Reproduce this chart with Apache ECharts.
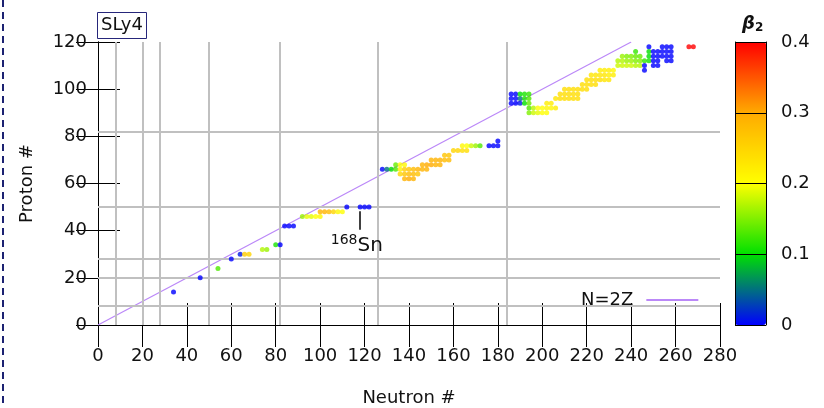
<!DOCTYPE html>
<html>
<head>
<meta charset="utf-8">
<script src="https://cdn.jsdelivr.net/npm/echarts@6/dist/echarts.min.js"></script>
<style>
html, body { margin: 0; padding: 0; background: #fff; }
#chart { width: 824px; height: 408px; }
</style>
</head>
<body>
<div id="chart"></div>
<script>
// nuclei: [N, Z, beta2]
var lightNuclei = [
	[34, 14, 0.0], [46, 20, 0.0], [54, 24, 0.13], [60, 28, 0.0],
	[64, 30, 0.01], [66, 30, 0.26], [68, 30, 0.25],
	[74, 32, 0.17], [76, 32, 0.16],
	[80, 34, 0.11], [82, 34, 0.0],
	[84, 42, 0.0], [86, 42, 0.0], [88, 42, 0.0],
	[92, 46, 0.16], [94, 46, 0.19], [96, 46, 0.19], [98, 46, 0.2], [100, 46, 0.21],
	[100, 48, 0.29], [102, 48, 0.29], [104, 48, 0.28], [106, 48, 0.25], [108, 48, 0.21], [110, 48, 0.2],
	[112, 50, 0.0], [118, 50, 0.0], [120, 50, 0.0], [122, 50, 0.0]
];

var midNuclei = [
	[138, 62, 0.29], [140, 62, 0.3], [142, 62, 0.29],
	[136, 64, 0.25], [138, 64, 0.27], [140, 64, 0.28], [142, 64, 0.28], [144, 64, 0.27],
	[128, 66, 0.0], [130, 66, 0.05], [132, 66, 0.1], [134, 66, 0.13], [136, 66, 0.22], [138, 66, 0.26],
	[140, 66, 0.27], [142, 66, 0.28], [144, 66, 0.29], [146, 66, 0.29], [148, 66, 0.29],
	[134, 68, 0.14], [136, 68, 0.2], [138, 68, 0.21],
	[146, 68, 0.29], [148, 68, 0.3], [150, 68, 0.3], [152, 68, 0.29], [154, 68, 0.29],
	[150, 70, 0.29], [152, 70, 0.29], [154, 70, 0.29], [156, 70, 0.28], [158, 70, 0.28],
	[156, 72, 0.27], [158, 72, 0.27],
	[160, 74, 0.25], [162, 74, 0.25], [164, 74, 0.24], [166, 74, 0.24],
	[164, 76, 0.21], [166, 76, 0.2], [168, 76, 0.18], [170, 76, 0.16], [172, 76, 0.13],
	[176, 76, 0.0], [178, 76, 0.0], [180, 76, 0.0],
	[180, 78, 0.0]
];

var heavyNuclei = [
	[194, 90, 0.15], [196, 90, 0.18], [198, 90, 0.19], [200, 90, 0.2], [202, 90, 0.2],
	[194, 92, 0.13], [196, 92, 0.17], [198, 92, 0.2], [200, 92, 0.2], [202, 92, 0.21], [204, 92, 0.21], [206, 92, 0.22],
	[186, 94, 0.0], [188, 94, 0.0], [190, 94, 0.01], [192, 94, 0.1], [194, 94, 0.14], [202, 94, 0.22], [204, 94, 0.22],
	[186, 96, 0.0], [188, 96, 0.0], [190, 96, 0.05], [192, 96, 0.11], [194, 96, 0.13],
	[206, 96, 0.23], [208, 96, 0.24], [210, 96, 0.24], [212, 96, 0.24], [214, 96, 0.24], [216, 96, 0.24],
	[186, 98, 0.0], [188, 98, 0.0], [190, 98, 0.1], [192, 98, 0.11], [194, 98, 0.12],
	[208, 98, 0.24], [210, 98, 0.24], [212, 98, 0.24], [214, 98, 0.24], [216, 98, 0.24],
	[210, 100, 0.24], [212, 100, 0.24], [214, 100, 0.24], [216, 100, 0.24], [218, 100, 0.24], [220, 100, 0.24],
	[218, 102, 0.24], [220, 102, 0.24], [222, 102, 0.24], [224, 102, 0.24],
	[220, 104, 0.24], [222, 104, 0.24], [224, 104, 0.24], [226, 104, 0.24], [228, 104, 0.23], [230, 104, 0.23],
	[222, 106, 0.23], [224, 106, 0.23], [226, 106, 0.23], [228, 106, 0.23], [230, 106, 0.22], [232, 106, 0.22],
	[226, 108, 0.22], [228, 108, 0.22], [230, 108, 0.22], [232, 108, 0.21], [246, 108, 0.0],
	[234, 110, 0.18], [236, 110, 0.18], [238, 110, 0.18], [240, 110, 0.18], [242, 110, 0.17], [244, 110, 0.17],
	[246, 110, 0.0], [250, 110, 0.0], [252, 110, 0.0],
	[234, 112, 0.17], [236, 112, 0.17], [238, 112, 0.16], [240, 112, 0.16], [242, 112, 0.15], [244, 112, 0.15],
	[246, 112, 0.12], [248, 112, 0.11], [250, 112, 0.0], [252, 112, 0.0], [256, 112, 0.0], [258, 112, 0.0],
	[236, 114, 0.16], [238, 114, 0.15], [240, 114, 0.15], [242, 114, 0.14], [244, 114, 0.14],
	[248, 114, 0.1], [250, 114, 0.0], [252, 114, 0.0], [254, 114, 0.0], [256, 114, 0.0], [258, 114, 0.0],
	[242, 116, 0.12], [248, 116, 0.1], [250, 116, 0.0], [252, 116, 0.0], [254, 116, 0.0], [256, 116, 0.0], [258, 116, 0.0],
	[248, 118, 0.0], [254, 118, 0.0], [256, 118, 0.0], [258, 118, 0.0], [266, 118, 0.4], [268, 118, 0.4]
];

var magicN = [8, 20, 28, 50, 82, 126, 184];
var magicZ = [8, 20, 28, 50, 82];
var lineN2Z = [[0, 0], [240, 120]];
var betaColors = ['#0000ff', '#00e000', '#ffff00', '#ffaa00', '#ff0000'];

var FONT = 'DejaVu Sans';
var LILAC = '#bb88f8';

var nuclei = lightNuclei.concat(midNuclei, heavyNuclei);

var magicLines = [];
for (var i = 0; i < magicN.length; i++) {
	magicLines.push({ xAxis: magicN[i] });
}
for (var j = 0; j < magicZ.length; j++) {
	magicLines.push({ yAxis: magicZ[j] });
}

var chart = echarts.init(document.getElementById('chart'));

var option = {
	animation: false,
	backgroundColor: '#fff',
	textStyle: { fontFamily: FONT },
	title: [{
		text: 'SLy4',
		left: 97,
		top: 12,
		padding: [4, 4, 5, 4],
		borderColor: '#26267a',
		borderWidth: 1,
		textStyle: { fontFamily: FONT, fontSize: 18, fontWeight: 'normal', color: '#111' }
	}, {
		text: '{b|β}{s|2}',
		left: 742,
		top: 14,
		padding: 0,
		textStyle: {
			rich: {
				b: { fontFamily: FONT, fontSize: 18, fontWeight: 'bold', fontStyle: 'italic', color: '#111' },
				s: { fontFamily: FONT, fontSize: 12, fontWeight: 'bold', color: '#111', padding: [8, 0, 0, 0] }
			}
		}
	}],
	legend: {
		data: [{ name: 'N=2Z', icon: 'rect', itemStyle: { color: LILAC, opacity: 1 } }],
		left: 576,
		top: 286,
		align: 'right',
		itemWidth: 52,
		itemHeight: 2,
		textStyle: { fontFamily: FONT, fontSize: 18, color: '#111', padding: [0, 8, 0, 0] }
	},
	grid: [
		{ left: 98, top: 42, width: 622, height: 283, outerBoundsMode: 'none', containLabel: false },
		{ left: 735, top: 42, width: 31, height: 283, outerBoundsMode: 'none', containLabel: false }
	],
	xAxis: [{
		gridIndex: 0,
		type: 'value',
		min: 0,
		max: 280,
		interval: 20,
		position: 'bottom',
		name: 'Neutron #',
		nameLocation: 'middle',
		nameGap: 64,
		nameTextStyle: { fontFamily: FONT, fontSize: 18, color: '#111' },
		axisLine: { lineStyle: { color: '#000', width: 1 } },
		axisTick: { inside: true, length: 22, lineStyle: { color: '#000' } },
		axisLabel: { margin: 22, fontFamily: FONT, fontSize: 18, color: '#111' },
		splitLine: { show: false }
	}, {
		gridIndex: 0,
		type: 'value',
		min: 0,
		max: 280,
		interval: 20,
		position: 'top',
		axisLine: { lineStyle: { color: '#000', width: 1 } },
		axisTick: { inside: true, length: 22, lineStyle: { color: '#000' } },
		axisLabel: { show: false },
		splitLine: { show: false }
	}, {
		gridIndex: 1,
		type: 'category',
		data: [''],
		show: false
	}],
	yAxis: [{
		gridIndex: 0,
		type: 'value',
		min: 0,
		max: 120,
		interval: 20,
		position: 'left',
		name: 'Proton #',
		nameLocation: 'middle',
		nameGap: 62,
		nameTextStyle: { fontFamily: FONT, fontSize: 18, color: '#111' },
		axisLine: { lineStyle: { color: '#000', width: 1 } },
		axisTick: { inside: true, length: 22, lineStyle: { color: '#000' } },
		axisLabel: { margin: 11, fontFamily: FONT, fontSize: 18, color: '#111' },
		splitLine: { show: false }
	}, {
		gridIndex: 0,
		type: 'value',
		min: 0,
		max: 120,
		interval: 20,
		position: 'right',
		axisLine: { lineStyle: { color: '#000', width: 1 } },
		axisTick: { inside: true, length: 22, lineStyle: { color: '#000' } },
		axisLabel: { show: false },
		splitLine: { show: false }
	}, {
		gridIndex: 1,
		type: 'value',
		min: 0,
		max: 0.4,
		interval: 0.1,
		position: 'right',
		z: 10,
		axisLine: { show: true, lineStyle: { color: '#000', width: 1 } },
		axisTick: { show: false },
		axisLabel: { margin: 15, fontFamily: FONT, fontSize: 18, color: '#111' },
		splitLine: { show: true, lineStyle: { color: '#000', width: 1 } }
	}, {
		gridIndex: 1,
		type: 'value',
		min: 0,
		max: 0.4,
		position: 'left',
		z: 10,
		axisLine: { show: true, lineStyle: { color: '#000', width: 1 } },
		axisTick: { show: false },
		axisLabel: { show: false },
		splitLine: { show: false }
	}],
	visualMap: {
		type: 'continuous',
		seriesIndex: 0,
		dimension: 2,
		min: 0,
		max: 0.4,
		calculable: false,
		hoverLink: false,
		text: null,
		left: 735,
		top: 42,
		padding: 0,
		itemWidth: 31,
		itemHeight: 283,
		inRange: { color: betaColors }
	},
	series: [{
		name: 'nuclei',
		type: 'scatter',
		xAxisIndex: 0,
		yAxisIndex: 0,
		data: nuclei,
		symbol: 'circle',
		symbolSize: 5,
		z: 5
	}, {
		name: 'N=2Z',
		type: 'line',
		xAxisIndex: 0,
		yAxisIndex: 0,
		data: lineN2Z,
		symbol: 'none',
		lineStyle: { color: LILAC, width: 1.2 },
		itemStyle: { color: LILAC },
		z: 3
	}, {
		name: 'magic',
		type: 'line',
		xAxisIndex: 0,
		yAxisIndex: 0,
		data: [],
		z: 1,
		markLine: {
			silent: true,
			symbol: 'none',
			label: { show: false },
			lineStyle: { type: 'solid', color: '#c0c0c0', width: 2 },
			data: magicLines
		}
	}, {
		name: 'annot',
		type: 'line',
		xAxisIndex: 0,
		yAxisIndex: 0,
		data: [],
		z: 6,
		markLine: {
			silent: true,
			symbol: ['none', 'arrow'],
			symbolSize: [0, 8],
			label: { show: false },
			lineStyle: { type: 'solid', color: '#000', width: 1.5 },
			data: [[{ coord: [118, 40.4] }, { coord: [118, 48.2] }]]
		},
		markPoint: {
			silent: true,
			symbol: 'circle',
			symbolSize: 1,
			itemStyle: { color: 'rgba(0,0,0,0)' },
			label: {
				show: true,
				formatter: '{a|168}{b|Sn}',
				rich: {
					a: { fontFamily: FONT, fontSize: 14, color: '#111', padding: [0, 0, 10, 0] },
					b: { fontFamily: FONT, fontSize: 20, color: '#111' }
				}
			},
			data: [{ coord: [116.5, 33.6] }]
		}
	}],
	graphic: [{
		type: 'line',
		shape: { x1: 3, y1: 0, x2: 3, y2: 408 },
		style: { stroke: '#1c2272', lineWidth: 2, lineDash: [7, 5] },
		silent: true
	}]
};

chart.setOption(option);
</script>
</body>
</html>
